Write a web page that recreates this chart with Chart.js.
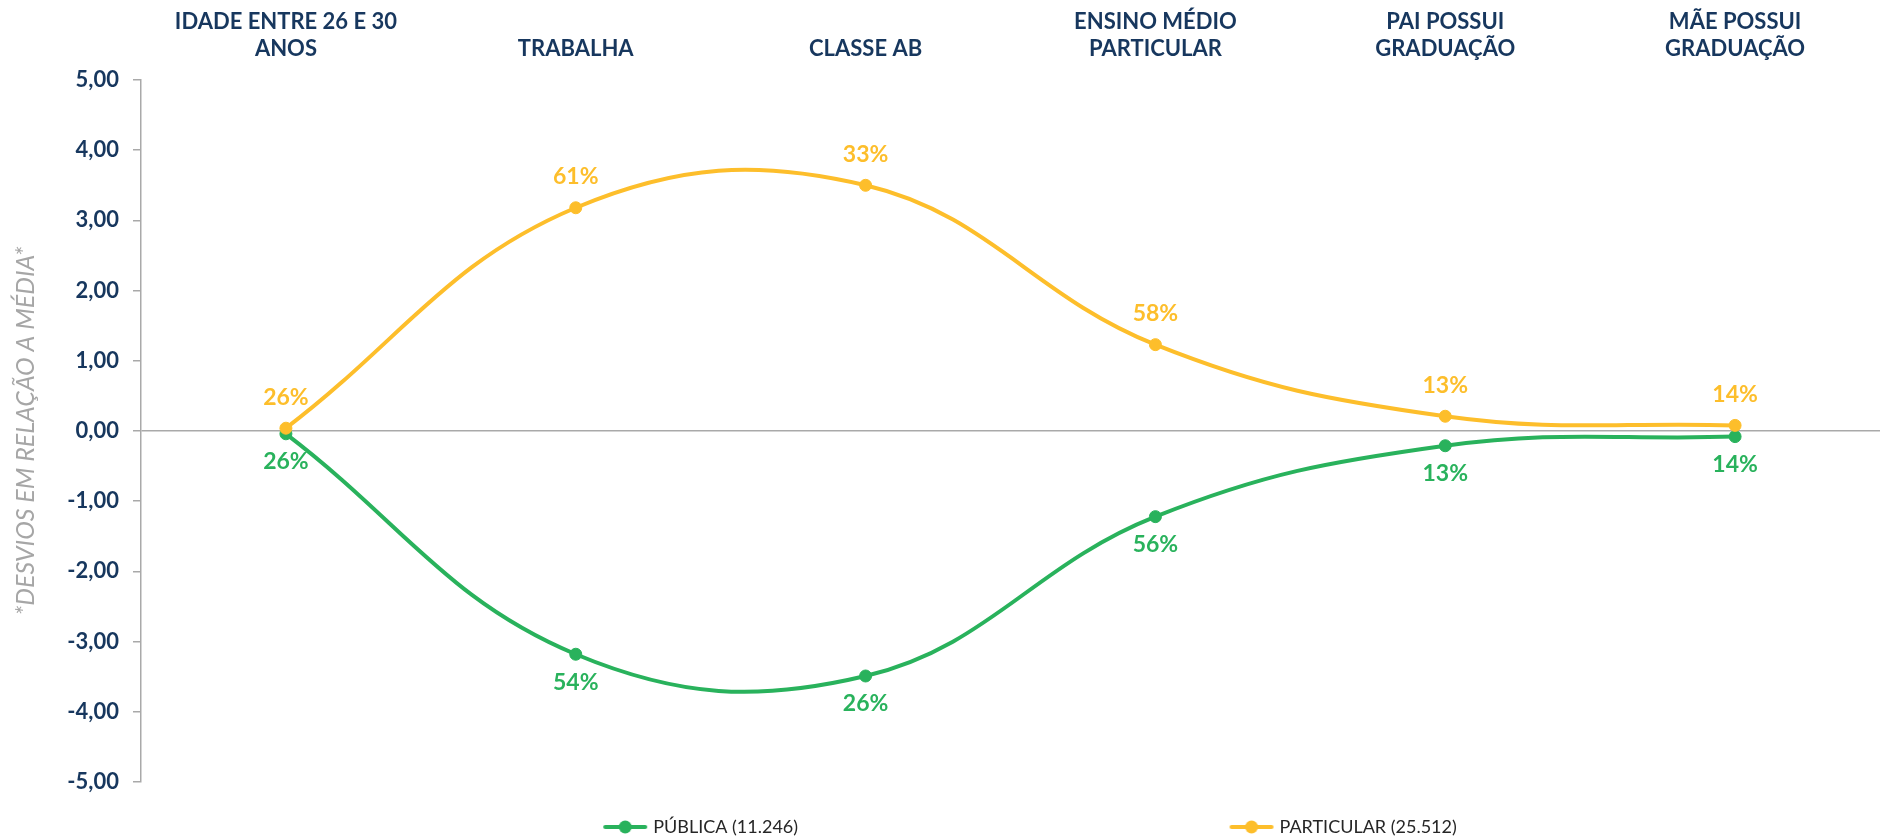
<!DOCTYPE html>
<html><head><meta charset="utf-8">
<script src="https://cdn.jsdelivr.net/npm/chart.js@4"></script>
<style>html,body{margin:0;padding:0;overflow:hidden;background:#fff;width:1887px;height:838px}</style>
</head><body>
<canvas id="c" width="1887" height="846" style="display:block"></canvas>
<script>
// ---- data ----
const categories = [['IDADE ENTRE 26 E 30','ANOS'], 'TRABALHA', 'CLASSE AB', ['ENSINO MÉDIO','PARTICULAR'], ['PAI POSSUI','GRADUAÇÃO'], ['MÃE POSSUI','GRADUAÇÃO']];
const publicaValues    = [-0.04, -3.18, -3.49, -1.22, -0.21, -0.08];
const particularValues = [ 0.04,  3.18,  3.50,  1.23,  0.21,  0.08];
const publicaPct    = ['26%','54%','26%','56%','13%','14%'];
const particularPct = ['26%','61%','33%','58%','13%','14%'];
const seriesNames = ['PÚBLICA (11.246)', 'PARTICULAR (25.512)'];
const yMin = -5, yMax = 5, yStep = 1;
const yTitle = '*DESVIOS EM RELAÇÃO A MÉDIA*';

// ---- styles ----
const GREEN = '#29B25C', YELLOW = '#FDBE2B', NAVY = '#17375E', GRAY = '#A9A9A9';

function legendMarker(color){
  const c = document.createElement('canvas'); c.width = 88; c.height = 16;
  const g = c.getContext('2d');
  g.strokeStyle = color; g.lineWidth = 4; g.lineCap = 'round';
  g.beginPath(); g.moveTo(45, 8); g.lineTo(85, 8); g.stroke();
  g.fillStyle = color; g.beginPath(); g.arc(65, 8, 6.5, 0, Math.PI*2); g.fill();
  return c;
}
const markers = [legendMarker(GREEN), legendMarker(YELLOW)];

const pctLabels = {
  id: 'pctLabels',
  afterDatasetsDraw(chart){
    const ctx = chart.ctx;
    chart.data.datasets.forEach((ds, i) => {
      const meta = chart.getDatasetMeta(i);
      ctx.save();
      ctx.font = 'bold 23px Lato';
      ctx.fillStyle = ds.borderColor;
      ctx.textAlign = 'center';
      ctx.textBaseline = 'middle';
      meta.data.forEach((pt, j) => {
        const dy = ds.labelAbove ? -31 : 28;
        ctx.fillText(ds.pct[j], pt.x, pt.y + dy);
      });
      ctx.restore();
    });
  }
};

Chart.defaults.font.family = 'Lato';

new Chart(document.getElementById('c'), {
  type: 'line',
  data: {
    labels: categories,
    datasets: [
      { label: seriesNames[0], data: publicaValues, pct: publicaPct, labelAbove: false,
        borderColor: GREEN, backgroundColor: GREEN, pointBackgroundColor: GREEN, pointBorderColor: GREEN,
        borderWidth: 4, pointRadius: 6, pointBorderWidth: 1, tension: 0.4, order: 2 },
      { label: seriesNames[1], data: particularValues, pct: particularPct, labelAbove: true,
        borderColor: YELLOW, backgroundColor: YELLOW, pointBackgroundColor: YELLOW, pointBorderColor: YELLOW,
        borderWidth: 4, pointRadius: 6, pointBorderWidth: 1, tension: 0.4, order: 1 }
    ]
  },
  options: {
    responsive: false,
    animation: false,
    layout: { padding: 0 },
    scales: {
      x: {
        position: 'top', offset: true,
        grid: { display: false, drawTicks: false },
        border: { display: false },
        ticks: { font: { family: 'Lato', weight: 'bold', size: 22, lineHeight: 1.25 }, color: NAVY, padding: 17, maxRotation: 0, autoSkip: false },
        afterFit(s){ s.height = 80; }
      },
      y: {
        min: yMin, max: yMax,
        ticks: { stepSize: yStep, callback: v => v.toFixed(2).replace('.', ','), font: { family: 'Lato', weight: 'bold', size: 22 }, color: NAVY, padding: 14 },
        grid: { color: c => (c.tick && c.tick.value === 0) ? GRAY : 'rgba(0,0,0,0)', lineWidth: 1.5, tickColor: GRAY, tickLength: 8, drawTicks: true },
        border: { display: true, color: GRAY, width: 1.5 },
        title: { display: true, text: yTitle, color: '#A6A6A6', font: { family: 'Lato', style: 'italic', weight: 'normal', size: 25 }, padding: { top: 11, bottom: 0 } },
        afterFit(s){ s.width = 141; }
      }
    },
    plugins: {
      tooltip: { enabled: false },
      legend: {
        position: 'bottom', fullSize: false,
        title: { display: true, text: '', padding: 0, font: { size: 13, lineHeight: 2 } },
        labels: {
          usePointStyle: true, pointStyleWidth: 80, padding: 10,
          font: { family: 'Lato', size: 18 }, color: '#262626',
          sort: (a, b) => a.datasetIndex - b.datasetIndex,
          generateLabels(chart){
            const items = Chart.defaults.plugins.legend.labels.generateLabels(chart);
            const m = chart.ctx; m.save(); m.font = '18px Lato';
            items.forEach(it => { it.pointStyle = markers[it.datasetIndex]; it.fontColor = '#262626'; });
            const first = items.find(it => it.datasetIndex === 0);
            let t = first.text;
            while (m.measureText(t).width < 526) t += ' ';
            first.text = t;
            m.restore();
            return items;
          }
        }
      }
    }
  },
  plugins: [pctLabels]
});
</script>
</body></html>
